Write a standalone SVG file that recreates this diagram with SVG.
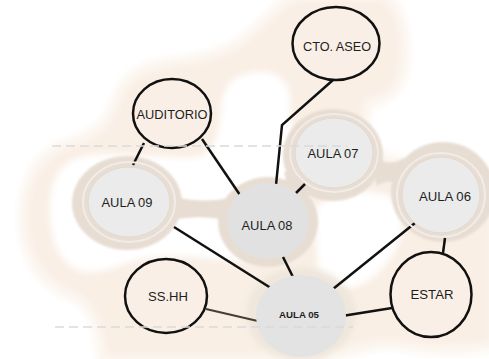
<svg xmlns="http://www.w3.org/2000/svg" width="489" height="359" viewBox="0 0 489 359">
  <defs>
    <filter id="soft" x="-20%" y="-20%" width="140%" height="140%">
      <feGaussianBlur stdDeviation="3"/>
    </filter>
    <filter id="soft1" x="-10%" y="-10%" width="120%" height="120%">
      <feGaussianBlur stdDeviation="0.8"/>
    </filter>
    <style>
      .peach { fill: #f9efe5; stroke: #fcf6f0; stroke-width: 10; }
      .hole { fill: #ffffff; }
      .tan { fill: #e7ddd3; }
      .ring { fill: none; stroke: #f1ece7; stroke-width: 2; }
      .aula { fill: #ebebeb; stroke: #e3d9cf; stroke-width: 1; }
      .aula-solid { fill: #e1e1e1; }
      .room { fill: #f9efe6; stroke: #111111; stroke-width: 2.5; }
      .lbl { font-family: "Liberation Sans", Arial, sans-serif; font-size: 13.5px; fill: #1e1e1e; text-anchor: middle; dominant-baseline: central; }
      .small { font-size: 9px; font-weight: bold; }
      .conn { stroke: #111111; stroke-width: 2.5; fill: none; stroke-linecap: butt; }
      .conn-brown { stroke: #4a3d31; stroke-width: 2; fill: none; }
      .dash { stroke: #dadada; stroke-width: 1.5; stroke-dasharray: 9 5; fill: none; }
    </style>
  </defs>

  <rect width="489" height="359" fill="#ffffff"/>

  <!-- background peach zones -->
  <g id="background" filter="url(#soft)">
    <path class="peach" d="M 300,-5 L 385,-5 C 402,8 408,40 404,68 C 401,90 388,100 368,104 L 360,150 L 430,170 L 495,190 L 495,345 C 470,352 432,350 402,346 C 380,343 362,348 345,353 C 325,360 300,362 280,360 L 102,360 C 100,330 92,305 72,296 C 42,285 24,258 23,222 C 22,185 35,155 68,143 C 95,135 108,124 116,100 C 124,78 140,67 166,63 C 200,59 226,54 250,34 C 268,18 282,0 300,-5 Z"/>
    <path class="hole" d="M 50,215 C 48,178 62,158 92,155 C 130,152 170,160 198,157 C 218,152 220,125 222,102 C 224,82 240,72 262,72 C 284,72 292,88 290,112 L 300,200 L 262,262 C 230,262 205,256 172,256 C 130,256 112,272 90,272 C 66,272 52,250 50,215 Z"/>
    <path class="hole" d="M 315,210 C 330,190 370,185 395,200 C 405,215 402,235 398,245 C 390,262 376,278 358,286 C 340,292 325,285 318,268 Z"/>
    <ellipse cx="301" cy="314" rx="55" ry="47" fill="#efe6dc"/>
  </g>

  <g id="tan-zones" filter="url(#soft1)">
    <ellipse class="tan" cx="127" cy="203" rx="55" ry="47"/>
    <path class="tan" d="M 172,196 Q 200,204 230,198 L 230,221 Q 200,214 172,220 Z"/>
    <ellipse class="tan" cx="268" cy="222" rx="50" ry="45"/>
    <ellipse class="tan" cx="333" cy="155" rx="50" ry="46"/>
    <path class="tan" d="M 284,172 L 312,168 L 318,192 L 290,196 Z"/>
    <path class="tan" d="M 376,158 Q 390,167 404,158 L 404,186 Q 390,177 376,186 Z"/>
    <ellipse class="tan" cx="443" cy="192" rx="52" ry="50"/>
  </g>

  <!-- connectors -->
  <g id="connectors">
    <line class="conn" x1="144" y1="143" x2="133" y2="165"/>
    <line class="conn" x1="202" y1="139" x2="240" y2="195"/>
    <polyline class="conn" points="333,80 282,125 276,185"/>
    <line class="conn" x1="305" y1="184" x2="296" y2="193"/>
    <line class="conn" x1="174" y1="227" x2="274" y2="290"/>
    <line class="conn" x1="283" y1="257" x2="293" y2="277"/>
    <line class="conn" x1="415" y1="223" x2="328" y2="293"/>
    <line class="conn" x1="445" y1="238" x2="443" y2="253"/>
    <line class="conn-brown" x1="206" y1="309" x2="262" y2="322"/>
    <line class="conn" x1="342" y1="316" x2="392" y2="308"/>
  </g>

  <!-- nodes -->
  <g id="auditorio">
    <ellipse class="room" cx="172" cy="113.5" rx="39" ry="34.5"/>
    <text class="lbl" x="172" y="114" textLength="71" lengthAdjust="spacingAndGlyphs">AUDITORIO</text>
  </g>
  <g id="cto-aseo">
    <ellipse class="room" cx="336" cy="43.5" rx="43.5" ry="36.5"/>
    <text class="lbl" x="337" y="46" textLength="68" lengthAdjust="spacingAndGlyphs">CTO. ASEO</text>
  </g>
  <g id="aula-09">
    <ellipse class="ring" cx="129" cy="202" rx="46" ry="40"/>
    <ellipse class="aula" cx="129" cy="202" rx="41" ry="35"/>
    <text class="lbl" x="127" y="202" textLength="51" lengthAdjust="spacingAndGlyphs">AULA 09</text>
  </g>
  <g id="aula-08">
    <ellipse class="aula-solid" cx="268" cy="221" rx="41" ry="38"/>
    <text class="lbl" x="267" y="225" textLength="51" lengthAdjust="spacingAndGlyphs">AULA 08</text>
  </g>
  <g id="aula-07">
    <ellipse class="ring" cx="334" cy="153" rx="44" ry="39"/>
    <ellipse class="aula" cx="334" cy="153" rx="39" ry="35"/>
    <text class="lbl" x="333" y="153" textLength="51" lengthAdjust="spacingAndGlyphs">AULA 07</text>
  </g>
  <g id="aula-06">
    <ellipse class="ring" cx="441" cy="195" rx="44" ry="42"/>
    <ellipse class="aula" cx="441" cy="195" rx="39" ry="38"/>
    <text class="lbl" x="445" y="196" textLength="52" lengthAdjust="spacingAndGlyphs">AULA 06</text>
  </g>
  <g id="estar">
    <ellipse class="room" cx="431" cy="294.5" rx="40.5" ry="42.5"/>
    <text class="lbl" x="432" y="294" textLength="43" lengthAdjust="spacingAndGlyphs">ESTAR</text>
  </g>
  <g id="ss-hh">
    <ellipse class="room" cx="166" cy="296" rx="41" ry="37"/>
    <text class="lbl" x="168" y="296" textLength="40" lengthAdjust="spacingAndGlyphs">SS.HH</text>
  </g>
  <g id="aula-05">
    <ellipse fill="#e3e3e3" cx="301" cy="316" rx="45" ry="41"/>
    <text class="lbl small" x="299" y="315" textLength="40" lengthAdjust="spacingAndGlyphs">AULA 05</text>
  </g>

  <!-- dashed reference lines -->
  <g id="guides">
    <line class="dash" x1="52" y1="146" x2="347" y2="146"/>
    <line class="dash" x1="55" y1="327" x2="353" y2="327"/>
  </g>
</svg>
